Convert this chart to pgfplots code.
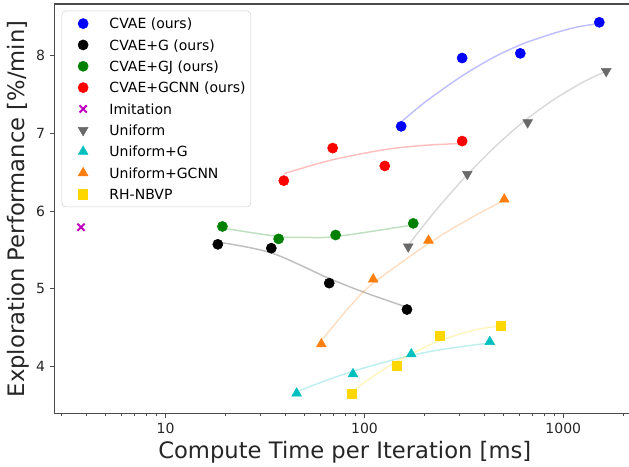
\documentclass[border=0pt]{standalone}
\usepackage{fontspec}
\setmainfont{DejaVu Sans}
\usepackage{pgfplots}
\pgfplotsset{compat=1.18}
\usetikzlibrary{calc}

\definecolor{cblue}{RGB}{0,0,255}
\definecolor{cgreen}{RGB}{0,128,0}
\definecolor{cred}{RGB}{255,0,0}
\definecolor{cpurple}{RGB}{191,0,191}
\definecolor{cgray}{RGB}{105,105,105}
\definecolor{ccyan}{RGB}{0,191,191}
\definecolor{corange}{RGB}{255,127,14}
\definecolor{cgold}{RGB}{255,215,0}

% fitted trend lines (drawn faint, not in legend)
\pgfplotsset{fit/.style={smooth, no markers, forget plot, line width=1.1pt, draw opacity=0.25}}

\begin{document}
\begin{tikzpicture}
\begin{axis}[
    xmode=log,
    scale only axis,
    width=431pt, height=307.3pt,
    xmin=2.753, xmax=2141,
    ymin=3.387, ymax=8.666,
    axis x line*=box, axis y line*=left,
    x axis line style={-}, y axis line style={-},
    axis line style={black!70, line width=0.8pt},
    xtick pos=left, ytick pos=left,
    tick align=outside,
    major tick length=3.5pt, minor tick length=2pt,
    tick style={black!70, line width=0.6pt},
    xtick={10,100,1000}, xticklabels={10,100,1000},
    minor xtick={3,4,5,6,7,8,9,20,30,40,50,60,70,80,90,200,300,400,500,600,700,800,900,2000},
    ytick={4,5,6,7,8},
    /pgf/number format/assume math mode=true,
    tick label style={font=\fontsize{10.5}{12}\selectfont, text=black!85},
    xlabel={Compute Time per Iteration [ms]},
    ylabel={Exploration Performance [\%/min]},
    xlabel style={font=\fontsize{17}{20}\selectfont, text=black!85,
        at={(axis description cs:0.5055,-0.0934)}, anchor=center},
    ylabel style={font=\fontsize{17}{20}\selectfont, text=black!85,
        at={(axis description cs:-0.0631,0.5)}, anchor=center},
    legend cell align=left,
    legend image code/.code={\draw[#1] plot coordinates {(0pt,0pt)};\path (-11.2pt,0pt) (11.2pt,0pt);},
    legend style={at={(0,1)}, anchor=north west, xshift=5.5pt, yshift=-5pt,
        draw=black!18, rounded corners=3pt, fill=white,
        font=\fontsize{10.5}{12}\selectfont,
        inner xsep=4pt, inner ysep=1.5pt, row sep=0pt, column sep=7.8pt,
        nodes={inner sep=0pt, text height=11.8pt, text depth=4.2pt}},
]

% trend lines
\addplot[fit, draw=cblue] coordinates {(153.6,7.15) (182,7.31) (213.6,7.45) (310,7.74) (447,7.98) (608,8.14) (741,8.22) (927,8.30) (1175,8.37) (1472,8.41)};
\addplot[fit, draw=black] coordinates {(18.3,5.60) (34,5.46) (66.5,5.13) (102.6,4.94) (163.6,4.76)};
\addplot[fit, draw=cgreen] coordinates {(19.3,5.78) (37,5.67) (50,5.66) (71.6,5.67) (176,5.82)};
\addplot[fit, draw=cred] coordinates {(39.3,6.48) (69.2,6.66) (126.5,6.79) (200,6.845) (310,6.87)};
\addplot[fit, draw=cgray] coordinates {(166,5.56) (223.9,5.98) (316.2,6.42) (446.7,6.81) (631,7.15) (891,7.43) (1259,7.66) (1644,7.80)};
\addplot[fit, draw=ccyan] coordinates {(45.6,3.67) (63.1,3.81) (87.5,3.935) (125.9,4.05) (172,4.14) (251,4.22) (427,4.30)};
\addplot[fit, draw=corange] coordinates {(60.7,4.33) (84.5,4.77) (110.7,5.07) (210,5.58) (327,5.88) (505,6.14)};
\addplot[fit, draw=cgold] coordinates {(86.3,3.67) (112,3.88) (145,4.06) (200,4.24) (240,4.33) (316,4.43) (398,4.49) (486,4.517)};

% measured points
\addplot[only marks, mark=*, mark size=3.8pt, color=cblue] coordinates {(153,7.09) (310,7.97) (608,8.03) (1518,8.43)};
\addlegendentry{CVAE (ours)}
\addplot[only marks, mark=*, mark size=3.8pt, color=black] coordinates {(18.3,5.57) (34.0,5.52) (66.5,5.07) (163.6,4.73)};
\addlegendentry{CVAE+G (ours)}
\addplot[only marks, mark=*, mark size=3.8pt, color=cgreen] coordinates {(19.3,5.80) (37.0,5.64) (71.6,5.69) (176,5.84)};
\addlegendentry{CVAE+GJ (ours)}
\addplot[only marks, mark=*, mark size=3.8pt, color=cred] coordinates {(39.3,6.39) (69.2,6.81) (126.5,6.58) (310,6.90)};
\addlegendentry{CVAE+GCNN (ours)}
\addplot[only marks, mark=x, mark size=3.8pt, line width=1.5pt, color=cpurple] coordinates {(3.75,5.79)};
\addlegendentry{Imitation}
\addplot[only marks, mark=triangle*, mark size=4.2pt, mark options={rotate=180}, color=cgray] coordinates {(166,5.54) (329,6.475) (662,7.14) (1644,7.80)};
\addlegendentry{Uniform}
\addplot[only marks, mark=triangle*, mark size=4.2pt, color=ccyan] coordinates {(45.6,3.65) (87.5,3.90) (172,4.156) (427,4.314)};
\addlegendentry{Uniform+G}
\addplot[only marks, mark=triangle*, mark size=4.2pt, color=corange] coordinates {(60.7,4.285) (110.7,5.12) (210,5.62) (505,6.15)};
\addlegendentry{Uniform+GCNN}
\addplot[only marks, mark=square*, mark size=3.4pt, color=cgold] coordinates {(86.3,3.65) (145,4.005) (240,4.388) (486,4.517)};
\addlegendentry{RH-NBVP}
\end{axis}
\pgfresetboundingbox
\path[use as bounding box] ($(current axis.south west)+(-40.7pt,-39.2pt)$) rectangle ($(current axis.north east)+(0pt,3pt)$);
\end{tikzpicture}
\end{document}
